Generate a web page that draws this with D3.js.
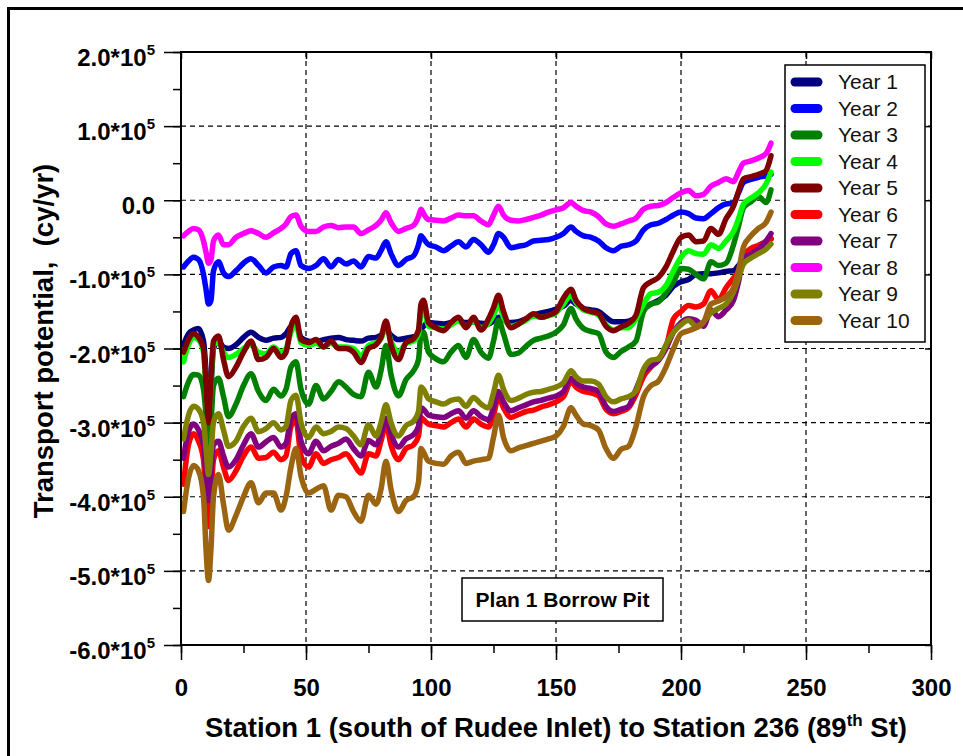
<!DOCTYPE html>
<html><head><meta charset="utf-8">
<script src="https://cdn.jsdelivr.net/npm/d3@7"></script>
<style>body{margin:0;background:#fff;} svg{display:block;font-family:"Liberation Sans",Arial,sans-serif;} text{white-space:pre;}</style>
</head><body><svg id="c" width="963" height="756"></svg>
<script>
// Station numbers (x) — values below are transport potential in thousands of cy/yr
const stations = [1,3,5,7,9,10,11,12,13,15,17,19,22,25,28,31,34,37,40,42,44,46,48,51,54,57,60,63,66,69,72,75,78,80,82,84,87,90,93,95,96,97,99,102,105,108,111,114,117,120,123,125,127,129,132,135,138,141,144,147,150,153,156,158,161,164,167,170,173,176,179,182,185,188,191,194,197,200,203,206,209,212,215,218,221,223,225,228,231,234,236];
const year1 = [-195,-180,-175,-173,-190,-230,-275,-250,-200,-190,-198,-200,-195,-185,-178,-185,-189,-186,-185,-180,-170,-168,-185,-190,-191,-188,-186,-185,-188,-189,-190,-186,-185,-182,-175,-182,-188,-186,-184,-182,-175,-170,-165,-166,-167,-165,-163,-165,-164,-166,-167,-163,-158,-162,-165,-164,-160,-155,-152,-150,-147,-143,-135,-140,-146,-148,-150,-158,-164,-164,-163,-158,-146,-140,-135,-128,-116,-110,-107,-100,-99,-99,-98,-96,-95,-88,-80,-70,-61,-56,-52];
const year2 = [-90,-82,-77,-80,-100,-120,-140,-135,-95,-83,-98,-103,-95,-85,-79,-88,-98,-90,-88,-90,-72,-68,-88,-92,-88,-79,-90,-80,-86,-82,-90,-76,-78,-68,-56,-72,-88,-80,-75,-60,-48,-52,-60,-63,-68,-62,-56,-63,-53,-60,-70,-60,-45,-50,-64,-62,-60,-55,-54,-53,-50,-45,-36,-42,-48,-50,-55,-64,-68,-62,-60,-55,-40,-33,-31,-26,-20,-16,-18,-24,-25,-18,-10,-5,-4,10,24,28,31,33,35];
const year3 = [-265,-245,-235,-236,-255,-290,-330,-300,-250,-240,-265,-292,-275,-250,-234,-258,-270,-255,-264,-255,-225,-218,-255,-275,-250,-268,-258,-245,-252,-262,-265,-232,-252,-230,-196,-235,-264,-242,-230,-215,-180,-178,-205,-214,-218,-205,-196,-212,-188,-205,-213,-190,-162,-180,-208,-206,-197,-189,-186,-183,-178,-168,-146,-160,-173,-177,-180,-205,-212,-204,-198,-190,-150,-140,-137,-125,-110,-92,-93,-100,-106,-83,-88,-85,-60,-35,-10,-2,5,-3,14];
const year4 = [-218,-195,-185,-188,-205,-250,-295,-245,-195,-192,-205,-212,-208,-200,-195,-205,-207,-198,-205,-200,-178,-168,-192,-196,-193,-198,-193,-198,-198,-200,-210,-196,-192,-187,-170,-190,-205,-193,-190,-180,-150,-145,-170,-172,-174,-168,-163,-170,-163,-172,-166,-155,-140,-158,-170,-167,-162,-156,-158,-156,-152,-140,-128,-138,-148,-151,-155,-168,-175,-172,-172,-160,-140,-126,-124,-115,-95,-77,-68,-72,-73,-60,-65,-55,-42,-25,-5,3,10,22,38];
const year5 = [-205,-188,-180,-185,-200,-250,-300,-240,-190,-183,-215,-238,-225,-205,-190,-215,-212,-200,-212,-205,-170,-158,-188,-192,-188,-198,-190,-200,-200,-205,-219,-200,-195,-185,-163,-195,-215,-192,-187,-175,-140,-135,-165,-172,-176,-165,-158,-172,-158,-175,-160,-145,-128,-150,-172,-167,-160,-153,-158,-155,-150,-132,-120,-135,-146,-150,-153,-170,-176,-171,-166,-155,-118,-110,-104,-90,-68,-50,-47,-56,-55,-38,-46,-25,-8,12,29,32,35,40,60];
const year6 = [-383,-330,-315,-325,-350,-400,-440,-400,-350,-338,-360,-378,-365,-345,-333,-348,-347,-340,-350,-345,-305,-297,-345,-360,-342,-355,-350,-347,-342,-355,-368,-342,-345,-325,-302,-330,-350,-335,-330,-318,-293,-296,-302,-304,-306,-300,-295,-306,-295,-302,-306,-290,-266,-280,-293,-289,-285,-283,-279,-276,-272,-265,-245,-252,-258,-260,-264,-282,-288,-285,-280,-262,-238,-225,-214,-198,-160,-150,-142,-144,-140,-122,-134,-118,-105,-96,-75,-65,-61,-56,-52];
const year7 = [-348,-312,-302,-310,-330,-370,-405,-370,-330,-325,-345,-360,-350,-330,-315,-333,-326,-320,-333,-328,-295,-288,-325,-342,-325,-338,-332,-328,-322,-335,-345,-324,-330,-315,-294,-315,-333,-322,-316,-305,-280,-282,-290,-292,-293,-288,-284,-294,-284,-292,-296,-280,-258,-272,-284,-280,-276,-272,-270,-267,-264,-258,-240,-247,-252,-254,-258,-278,-285,-282,-278,-255,-232,-224,-216,-200,-178,-165,-160,-162,-170,-148,-157,-148,-135,-110,-78,-72,-66,-55,-45];
const year8 = [-48,-42,-38,-40,-55,-70,-85,-80,-55,-47,-60,-60,-50,-45,-41,-45,-50,-44,-38,-32,-22,-20,-35,-42,-42,-36,-34,-37,-36,-36,-45,-40,-34,-27,-17,-30,-42,-38,-34,-22,-12,-18,-26,-27,-28,-24,-20,-21,-21,-28,-33,-20,-8,-20,-27,-28,-26,-23,-20,-16,-13,-10,-3,-8,-14,-16,-22,-32,-35,-32,-28,-24,-12,-8,-7,-3,4,10,13,6,8,19,24,29,25,38,50,53,57,63,77];
const year9 = [-322,-290,-278,-282,-300,-335,-370,-340,-300,-288,-310,-332,-325,-305,-294,-312,-308,-300,-310,-305,-270,-263,-300,-320,-306,-315,-312,-306,-308,-318,-330,-303,-318,-300,-276,-300,-318,-304,-298,-285,-252,-255,-268,-272,-275,-270,-268,-278,-266,-275,-280,-260,-236,-255,-270,-267,-262,-259,-258,-255,-252,-246,-230,-238,-244,-244,-248,-265,-272,-268,-265,-257,-228,-216,-214,-195,-178,-168,-162,-170,-164,-152,-146,-140,-124,-105,-86,-78,-72,-66,-59];
const year10 = [-420,-375,-358,-365,-400,-470,-513,-470,-400,-370,-410,-445,-425,-400,-381,-408,-395,-395,-418,-400,-360,-335,-372,-395,-390,-385,-418,-398,-400,-420,-433,-398,-410,-390,-352,-390,-420,-405,-400,-380,-335,-340,-352,-355,-356,-345,-340,-355,-352,-350,-348,-320,-290,-320,-338,-334,-331,-328,-325,-322,-318,-305,-280,-290,-302,-304,-310,-335,-348,-336,-332,-305,-265,-250,-244,-225,-200,-180,-176,-172,-165,-140,-136,-130,-118,-95,-63,-48,-38,-30,-16];

const seriesNames = ["Year 1","Year 2","Year 3","Year 4","Year 5","Year 6","Year 7","Year 8","Year 9","Year 10"];
const xTickValues = [0,50,100,150,200,250,300];
const yTickValues = [-600000,-500000,-400000,-300000,-200000,-100000,0,100000,200000];
const xTitle = "Station 1 (south of Rudee Inlet) to Station 236 (89";
const yTitle = "Transport potential,  (cy/yr)";
const annotation = "Plan 1 Borrow Pit";

const colors = ["#000080","#0000ff","#008000","#00ff00","#800000","#ff0000","#800080","#ff00ff","#808000","#9a6410"];
const allSeries = [year1,year2,year3,year4,year5,year6,year7,year8,year9,year10];

const svg = d3.select("#c");
const m = {l:181, r:931, t:52, b:645};
const x = d3.scaleLinear().domain([0,300]).range([m.l, m.r]);
const y = d3.scaleLinear().domain([-600000,200000]).range([m.b, m.t]);

// outer frame (left/top visible)
svg.append("rect").attr("x",8.5).attr("y",8.5).attr("width",1100).attr("height",900)
  .attr("fill","none").attr("stroke","#000").attr("stroke-width",3);

// grid
const grid = svg.append("g").attr("stroke","#000").attr("stroke-width",1.2).attr("stroke-dasharray","5,4");
xTickValues.filter(v=>v>0 && v<300).forEach(v=>{
  grid.append("line").attr("x1",x(v)).attr("x2",x(v)).attr("y1",m.t).attr("y2",m.b);
});
yTickValues.filter(v=>v>-600000 && v<200000).forEach(v=>{
  grid.append("line").attr("x1",m.l).attr("x2",m.r).attr("y1",y(v)).attr("y2",y(v));
});

// axes via d3
const xMinor = d3.range(0,301,25);
const yMinor = d3.range(-600000,200001,50000);
svg.append("g").attr("transform",`translate(0,${m.b})`)
  .call(d3.axisBottom(x).tickValues(xMinor).tickSize(8).tickFormat(""))
  .call(g=>{g.select(".domain").remove(); g.selectAll("line").attr("stroke","#000").attr("stroke-width",1.5);});
svg.append("g").attr("transform",`translate(0,${m.b})`)
  .call(d3.axisBottom(x).tickValues(xTickValues).tickSize(15).tickPadding(19).tickFormat(d=>d))
  .call(g=>{g.select(".domain").remove(); g.selectAll("line").attr("stroke","#000").attr("stroke-width",1.5);
    g.selectAll("text").attr("font-family","Liberation Sans, Arial").attr("font-weight","bold").attr("font-size",24).attr("fill","#000").attr("dy","0.71em");});
svg.append("g").attr("transform",`translate(${m.l},0)`)
  .call(d3.axisLeft(y).tickValues(yMinor).tickSize(8).tickFormat(""))
  .call(g=>{g.select(".domain").remove(); g.selectAll("line").attr("stroke","#000").attr("stroke-width",1.5);});
svg.append("g").attr("transform",`translate(${m.l},0)`)
  .call(d3.axisLeft(y).tickValues(yTickValues).tickSize(17).tickFormat(""))
  .call(g=>{g.select(".domain").remove(); g.selectAll("line").attr("stroke","#000").attr("stroke-width",1.5);});
// top and right inner ticks
svg.append("g").attr("transform",`translate(0,${m.t})`)
  .call(d3.axisBottom(x).tickValues(xTickValues).tickSize(7).tickFormat(""))
  .call(g=>{g.select(".domain").remove(); g.selectAll("line").attr("stroke","#000").attr("stroke-width",1.5);});
svg.append("g").attr("transform",`translate(${m.r},0)`)
  .call(d3.axisLeft(y).tickValues(yTickValues).tickSize(6).tickFormat(""))
  .call(g=>{g.select(".domain").remove(); g.selectAll("line").attr("stroke","#000").attr("stroke-width",1.5);});

// y tick labels with superscript
const yl = svg.append("g").attr("font-weight","bold").attr("font-size",24).attr("text-anchor","end");
yTickValues.forEach(v=>{
  const t = yl.append("text").attr("x",155).attr("y",y(v)+14);
  if (v===0) { t.text("0.0"); }
  else {
    t.append("tspan").text((v/100000).toFixed(1)+"*10");
    t.append("tspan").attr("font-size",15).attr("dy",-11).text("5");
  }
});

// lines
const line = d3.line().x(d=>x(d[0])).y(d=>y(d[1]*1000)).curve(d3.curveMonotoneX);
const lg = svg.append("g").attr("fill","none").attr("stroke-width",5.5).attr("stroke-linejoin","round").attr("stroke-linecap","round");
allSeries.forEach((s,i)=>{
  lg.append("path").attr("d", line(stations.map((st,j)=>[st,s[j]]))).attr("stroke",colors[i]);
});

// plot frame
svg.append("rect").attr("x",m.l).attr("y",m.t).attr("width",m.r-m.l).attr("height",m.b-m.t)
  .attr("fill","none").attr("stroke","#000").attr("stroke-width",2);

// legend
const leg = svg.append("g");
leg.append("rect").attr("x",785).attr("y",65).attr("width",140).attr("height",277).attr("fill","#fff").attr("stroke","#000").attr("stroke-width",1.5);
seriesNames.forEach((n,i)=>{
  const cy = 82 + i*26.5;
  leg.append("line").attr("x1",795).attr("x2",818).attr("y1",cy).attr("y2",cy).attr("stroke",colors[i]).attr("stroke-width",9).attr("stroke-linecap","round");
  leg.append("text").attr("x",838).attr("y",cy+7).attr("font-size",21).attr("fill","#111").text(n);
});

// annotation box
svg.append("rect").attr("x",462).attr("y",578).attr("width",201).attr("height",43).attr("fill","#fff").attr("stroke","#000").attr("stroke-width",1.5);
svg.append("text").attr("x",562.5).attr("y",607).attr("text-anchor","middle").attr("font-weight","bold").attr("font-size",21).text(annotation);

// axis titles
const xt = svg.append("text").attr("x",556).attr("y",737).attr("text-anchor","middle").attr("font-weight","bold").attr("font-size",27.5);
xt.append("tspan").text(xTitle);
xt.append("tspan").attr("font-size",17).attr("dy",-11).text("th");
xt.append("tspan").attr("dy",11).text(" St)");
svg.append("text").attr("transform","translate(53,341) rotate(-90)").attr("text-anchor","middle").attr("font-weight","bold").attr("font-size",27.5).text(yTitle);
</script></body></html>
